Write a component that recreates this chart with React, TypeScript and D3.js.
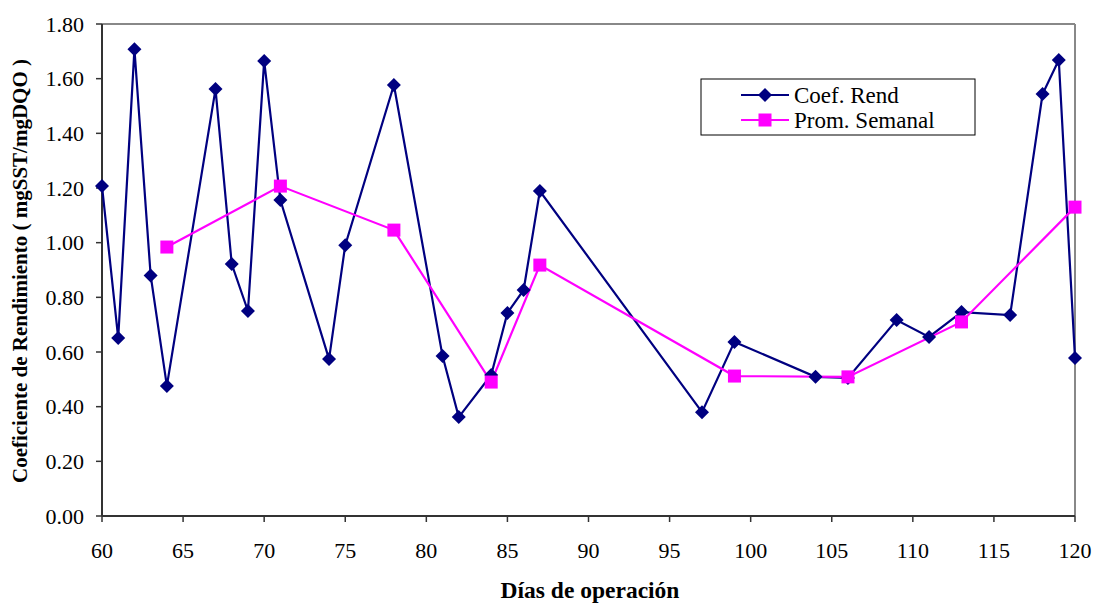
import React from "react";
import * as d3 from "d3";

const coefDays = [60, 61, 62, 63, 64, 67, 68, 69, 70, 71, 74, 75, 78, 81, 82, 84, 85, 86, 87, 97, 99, 104, 106, 109, 111, 113, 116, 118, 119, 120];
const coefValues = [1.207, 0.651, 1.708, 0.88, 0.476, 1.562, 0.922, 0.75, 1.665, 1.156, 0.574, 0.991, 1.577, 0.585, 0.362, 0.516, 0.743, 0.827, 1.189, 0.38, 0.637, 0.509, 0.505, 0.717, 0.655, 0.746, 0.735, 1.544, 1.668, 0.578];
const promDays = [64, 71, 78, 84, 87, 99, 106, 113, 120];
const promValues = [0.984, 1.207, 1.046, 0.49, 0.918, 0.512, 0.509, 0.71, 1.13];
const xTicks = [60, 65, 70, 75, 80, 85, 90, 95, 100, 105, 110, 115, 120];
const yTicks = [0, 0.2, 0.4, 0.6, 0.8, 1.0, 1.2, 1.4, 1.6, 1.8];
const seriesNames = ["Coef. Rend", "Prom. Semanal"];

const W = 1095;
const H = 603;
const left = 102, right = 1075, top = 24, bottom = 516;
const NAVY = "#000080";
const MAGENTA = "#FF00FF";
const FONT = "Liberation Serif";

export default function App() {
  const x = d3.scaleLinear().domain([60, 120]).range([left, right]);
  const y = d3.scaleLinear().domain([0, 1.8]).range([bottom, top]);
  const coef = coefDays.map((d, i) => [d, coefValues[i]] as [number, number]);
  const prom = promDays.map((d, i) => [d, promValues[i]] as [number, number]);
  const line = d3.line<[number, number]>().x((d) => x(d[0])).y((d) => y(d[1]));
  const diamond = (cx: number, cy: number, r = 7) =>
    `M${cx},${cy - r}L${cx + r},${cy}L${cx},${cy + r}L${cx - r},${cy}Z`;
  const sq = 13;

  return (
    <svg width={W} height={H} style={{ position: "absolute", left: 0, top: 0, background: "#fff", fontFamily: FONT }}>
      <rect x={0} y={0} width={W} height={H} fill="#fff" />
      <line x1={left} x2={right} y1={top} y2={top} stroke="#888" strokeWidth={2} />
      <line x1={right} x2={right} y1={top} y2={bottom} stroke="#888" strokeWidth={2} />
      <line x1={left} x2={right} y1={bottom} y2={bottom} stroke="#333" strokeWidth={2} />
      <line x1={left} x2={left} y1={top} y2={bottom} stroke="#333" strokeWidth={2} />
      {yTicks.map((t) => (
        <g key={"y" + t}>
          <line x1={left - 6} x2={left} y1={y(t)} y2={y(t)} stroke="#333" strokeWidth={1.5} />
          <text x={84} y={y(t)} dy="0.35em" textAnchor="end" fontSize={22} fill="#000" style={{ fontFamily: FONT }}>
            {t.toFixed(2)}
          </text>
        </g>
      ))}
      {xTicks.map((t) => (
        <g key={"x" + t}>
          <line x1={x(t)} x2={x(t)} y1={bottom} y2={bottom + 6} stroke="#333" strokeWidth={1.5} />
          <text x={x(t)} y={550} dy="0.35em" textAnchor="middle" fontSize={22} fill="#000" style={{ fontFamily: FONT }}>
            {t}
          </text>
        </g>
      ))}
      <text x={590} y={590} dy="0.35em" textAnchor="middle" fontSize={23.5} fontWeight="bold" style={{ fontFamily: FONT }}>
        Días de operación
      </text>
      <text
        transform={`translate(20,${(top + bottom) / 2 + 1}) rotate(-90)`}
        dy="0.35em"
        textAnchor="middle"
        fontSize={21}
        fontWeight="bold"
        style={{ fontFamily: FONT }}
      >
        Coeficiente de Rendimiento ( mgSST/mgDQO )
      </text>
      <path d={line(coef) || ""} fill="none" stroke={NAVY} strokeWidth={2.2} />
      <path d={line(prom) || ""} fill="none" stroke={MAGENTA} strokeWidth={2.2} />
      {coef.map((d, i) => (
        <path key={"c" + i} d={diamond(x(d[0]), y(d[1]))} fill={NAVY} />
      ))}
      {prom.map((d, i) => (
        <rect key={"p" + i} x={x(d[0]) - sq / 2} y={y(d[1]) - sq / 2} width={sq} height={sq} fill={MAGENTA} />
      ))}
      <rect x={701} y={79} width={274} height={56} fill="#fff" stroke="#000" strokeWidth={1} />
      <line x1={741} x2={789} y1={95} y2={95} stroke={NAVY} strokeWidth={2.2} />
      <path d={diamond(765, 95)} fill={NAVY} />
      <text x={794} y={95} dy="0.35em" fontSize={23} style={{ fontFamily: FONT }}>{seriesNames[0]}</text>
      <line x1={741} x2={789} y1={120} y2={120} stroke={MAGENTA} strokeWidth={2.2} />
      <rect x={765 - sq / 2} y={120 - sq / 2} width={sq} height={sq} fill={MAGENTA} />
      <text x={794} y={120} dy="0.35em" fontSize={23} style={{ fontFamily: FONT }}>{seriesNames[1]}</text>
    </svg>
  );
}
